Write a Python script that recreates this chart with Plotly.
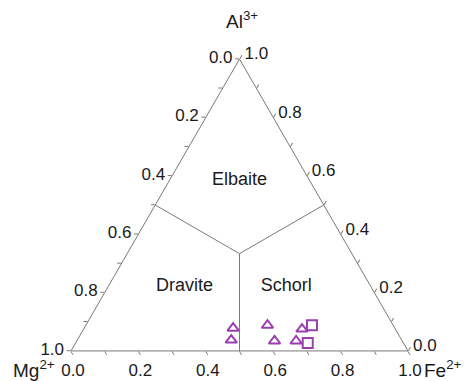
import plotly.graph_objects as go

# Data (fractions Al, Mg, Fe)
tri_al = [0.078, 0.037, 0.088, 0.034, 0.075, 0.034]
tri_mg = [0.480, 0.506, 0.373, 0.379, 0.277, 0.315]
tri_fe = [0.442, 0.457, 0.539, 0.587, 0.648, 0.651]

sq_al = [0.088, 0.027]
sq_mg = [0.241, 0.284]
sq_fe = [0.671, 0.689]

field_names = ["Elbaite", "Dravite", "Schorl"]
field_al = [0.583, 0.22, 0.22]
field_mg = [0.2085, 0.553, 0.251]
field_fe = [0.2085, 0.227, 0.529]

tick_vals = [i / 10 for i in range(11)]

purple = "#9b3fae"
gray = "#7a7a7a"
font = "Arial, Liberation Sans, sans-serif"

W, H = 466, 381
ML, MR, MT, MB = 71, 58, 58, 29


def labels(vals):
    out = []
    for v in vals:
        k = round(v * 10)
        out.append(f"{1 - v:.1f}" if k % 2 == 0 else "")
    return out


fig = go.Figure()

# field boundaries: edge midpoints to centroid
c3 = 1 / 3
for a0, b0, c0 in [(0.5, 0.5, 0.0), (0.5, 0.0, 0.5), (0.0, 0.5, 0.5)]:
    fig.add_trace(go.Scatterternary(
        a=[a0, c3], b=[b0, c3], c=[c0, c3], mode="lines",
        line=dict(color=gray, width=1), hoverinfo="skip", showlegend=False))

fig.add_trace(go.Scatterternary(
    a=field_al, b=field_mg, c=field_fe, mode="text", text=field_names,
    textfont=dict(family=font, size=18, color="#1a1a1a"), showlegend=False))

fig.add_trace(go.Scatterternary(
    a=tri_al, b=tri_mg, c=tri_fe, mode="markers",
    marker=dict(symbol="triangle-up-open", size=10, color=purple,
                line=dict(width=2, color=purple)), showlegend=False))
fig.add_trace(go.Scatterternary(
    a=sq_al, b=sq_mg, c=sq_fe, mode="markers",
    marker=dict(symbol="square-open", size=10, color=purple,
                line=dict(width=2, color=purple)), showlegend=False))

axis_common = dict(
    tickmode="array", tickvals=tick_vals, ticktext=labels(tick_vals),
    ticks="outside", ticklen=4, tickcolor=gray, tickwidth=1,
    showgrid=False, linecolor=gray, linewidth=1, showline=True,
    tickfont=dict(family=font, size=17, color="#1a1a1a"), title=dict(text=""),
)


def px(x, y):
    return (x - ML) / (W - ML - MR), (H - y - MB) / (H - MT - MB)


annots = []
for txt, x, y in [("Al<sup>3+</sup>", 242, 20), ("Mg<sup>2+</sup>", 34, 369),
                  ("Fe<sup>2+</sup>", 443, 369)]:
    fx, fy = px(x, y)
    annots.append(dict(text=txt, x=fx, y=fy, xref="paper", yref="paper",
                       xanchor="center", yanchor="middle",
                       showarrow=False, font=dict(size=19)))

fig.update_layout(
    width=W, height=H,
    margin=dict(l=ML, r=MR, t=MT, b=MB),
    paper_bgcolor="white",
    ternary=dict(
        bgcolor="white", sum=1,
        aaxis=axis_common, baxis=axis_common, caxis=axis_common,
    ),
    font=dict(family=font, color="#1a1a1a"),
    annotations=annots,
)

fig.write_html("out.html", post_script="document.body.style.margin='0';",
               config={"displayModeBar": False})
